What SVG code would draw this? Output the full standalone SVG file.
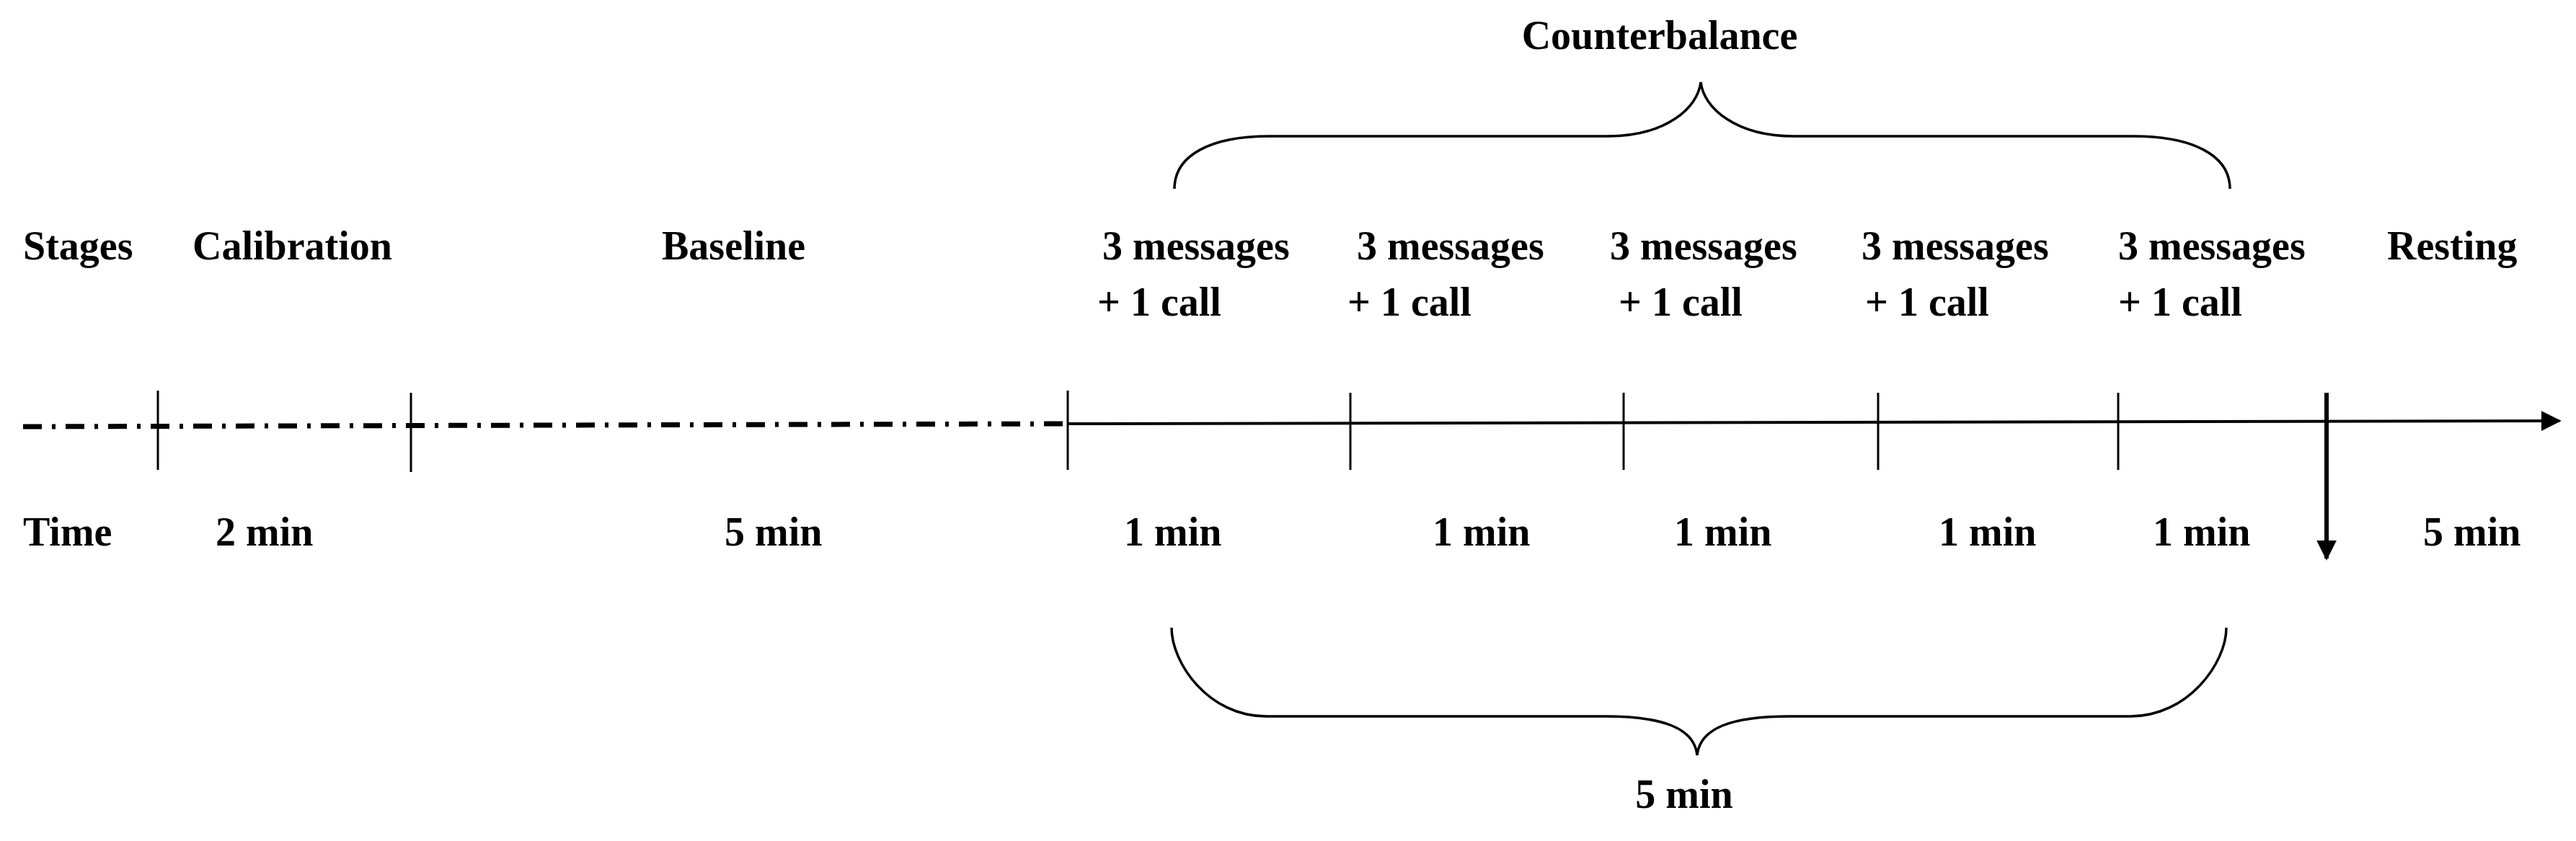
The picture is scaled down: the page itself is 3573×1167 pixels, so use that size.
<svg xmlns="http://www.w3.org/2000/svg" width="3573" height="1167" viewBox="0 0 3573 1167">
<style>
text{font-family:"Liberation Serif","Times New Roman",serif;font-weight:bold;font-size:56px;fill:#000}
.tick{stroke:#000;stroke-width:3}
.brace{fill:none;stroke:#000;stroke-width:3.5}
</style>
<defs>
<marker id="ah" markerWidth="10" markerHeight="10" refX="9" refY="5" orient="auto" markerUnits="userSpaceOnUse" viewBox="0 0 10 10"><path d="M0,0 L10,5 L0,10 z" fill="#000"/></marker>
<marker id="ah2" viewBox="0 0 10 10" refX="9" refY="5" markerWidth="28" markerHeight="30" orient="auto" markerUnits="userSpaceOnUse"><path d="M0,0 L10,5 L0,10 z" fill="#000"/></marker>
</defs>
<rect width="3573" height="1167" fill="#fff"/>
<g id="connectors">
<line x1="32" y1="592" x2="1481" y2="588" stroke="#000" stroke-width="7" stroke-dasharray="26,14,5,14"/>
<line x1="1481" y1="588" x2="3550" y2="584" stroke="#000" stroke-width="4" marker-end="url(#ah2)"/>
<line class="tick" x1="219" y1="542" x2="219" y2="652"/>
<line class="tick" x1="570" y1="545" x2="570" y2="655"/>
<line class="tick" x1="1481" y1="542" x2="1481" y2="652"/>
<line class="tick" x1="1873" y1="545" x2="1873" y2="652"/>
<line class="tick" x1="2252" y1="545" x2="2252" y2="652"/>
<line class="tick" x1="2605" y1="545" x2="2605" y2="652"/>
<line class="tick" x1="2938" y1="545" x2="2938" y2="652"/>
<line x1="3227" y1="545" x2="3227" y2="775" stroke="#000" stroke-width="6" marker-end="url(#ah2)"/>
<path class="brace" d="M1629,262 C1629,215 1680,189 1760,189 L2230,189 C2310,189 2355,150 2359,114 C2363,150 2408,189 2488,189 L2960,189 C3040,189 3093,215 3093,262"/>
<path class="brace" d="M1625,871 C1625,920 1676,994 1756,994 L2226,994 C2306,994 2350,1010 2354,1048 C2358,1010 2402,994 2482,994 L2955,994 C3035,994 3088,920 3088,871"/>
</g>
<g id="labels">
<text x="2302" y="68" text-anchor="middle">Counterbalance</text>
<text x="32" y="360">Stages</text>
<text x="267" y="360">Calibration</text>
<text x="918" y="360">Baseline</text>
<text x="1529" y="360">3 messages</text>
<text x="1882" y="360">3 messages</text>
<text x="2233" y="360">3 messages</text>
<text x="2582" y="360">3 messages</text>
<text x="2938" y="360">3 messages</text>
<text x="3311" y="360">Resting</text>
<text x="1522" y="438">+ 1 call</text>
<text x="1869" y="438">+ 1 call</text>
<text x="2245" y="438">+ 1 call</text>
<text x="2587" y="438">+ 1 call</text>
<text x="2938" y="438">+ 1 call</text>
<text x="32" y="757">Time</text>
<text x="299" y="757">2 min</text>
<text x="1005" y="757">5 min</text>
<text x="1559" y="757">1 min</text>
<text x="1987" y="757">1 min</text>
<text x="2322" y="757">1 min</text>
<text x="2689" y="757">1 min</text>
<text x="2986" y="757">1 min</text>
<text x="3361" y="757">5 min</text>
<text x="2336" y="1121" text-anchor="middle">5 min</text>
</g>
</svg>
